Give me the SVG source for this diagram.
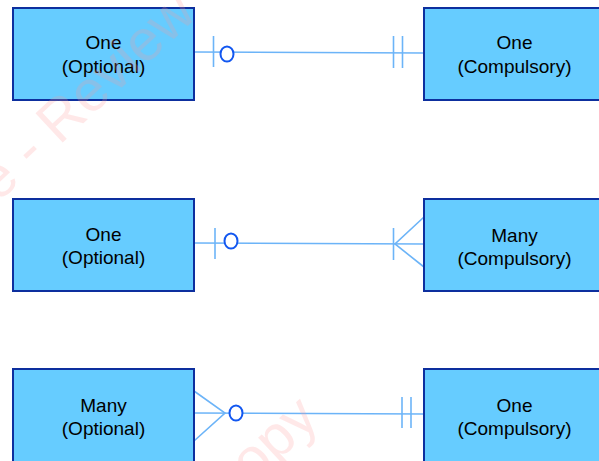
<svg xmlns="http://www.w3.org/2000/svg" width="599" height="461" viewBox="0 0 599 461">
<style>
.box{fill:#66ccff;stroke:#0d2f9e;stroke-width:2}
.lbl{font-family:"Liberation Sans",Arial,Helvetica,sans-serif;font-size:19px;fill:#000;text-anchor:middle}
.ln{stroke:#6cb4f8;stroke-width:1.6;fill:none}
.circ{stroke:#1257f0;stroke-width:2;fill:#fff}
.wm{font-family:"Liberation Sans",Arial,sans-serif;font-size:58px;fill:#ff9999;opacity:0.22}
</style>
<rect width="599" height="461" fill="#fff"/>
<g id="connectors">
<!-- row 1: one optional to one compulsory -->
<line class="ln" x1="194" y1="52" x2="424" y2="53"/>
<line class="ln" x1="213.5" y1="36" x2="213.5" y2="67"/>
<ellipse class="circ" cx="227" cy="54" rx="6.5" ry="7.5"/>
<line class="ln" x1="393.5" y1="36" x2="393.5" y2="68"/>
<line class="ln" x1="402.5" y1="36" x2="402.5" y2="68"/>
<!-- row 2: one optional to many compulsory -->
<line class="ln" x1="194" y1="243" x2="424" y2="244"/>
<line class="ln" x1="215" y1="228" x2="215" y2="259"/>
<ellipse class="circ" cx="231" cy="241" rx="6.5" ry="7.5"/>
<line class="ln" x1="393.5" y1="228" x2="393.5" y2="260"/>
<polyline class="ln" points="424,217 395,244 424,267"/>
<!-- row 3: many optional to one compulsory -->
<line class="ln" x1="194" y1="413" x2="424" y2="414"/>
<polyline class="ln" points="194,391 225,413 194,441"/>
<ellipse class="circ" cx="236" cy="413" rx="6.5" ry="7.5"/>
<line class="ln" x1="402" y1="397" x2="402" y2="428"/>
<line class="ln" x1="411" y1="397" x2="411" y2="428"/>
</g>
<g id="n1">
<rect class="box" x="13" y="8" width="181" height="92"/>
<text class="lbl" x="103.5" y="49">One</text>
<text class="lbl" x="103.5" y="73">(Optional)</text>
</g>
<g id="n2">
<rect class="box" x="424" y="8" width="182" height="92"/>
<text class="lbl" x="514.5" y="49">One</text>
<text class="lbl" x="514.5" y="73">(Compulsory)</text>
</g>
<g id="n3">
<rect class="box" x="13" y="199" width="181" height="92"/>
<text class="lbl" x="103.5" y="241">One</text>
<text class="lbl" x="103.5" y="264">(Optional)</text>
</g>
<g id="n4">
<rect class="box" x="424" y="199" width="182" height="92"/>
<text class="lbl" x="514.5" y="242">Many</text>
<text class="lbl" x="514.5" y="265">(Compulsory)</text>
</g>
<g id="n5">
<rect class="box" x="13" y="369" width="181" height="96"/>
<text class="lbl" x="103.5" y="412">Many</text>
<text class="lbl" x="103.5" y="435">(Optional)</text>
</g>
<g id="n6">
<rect class="box" x="424" y="369" width="182" height="96"/>
<text class="lbl" x="514.5" y="412">One</text>
<text class="lbl" x="514.5" y="435">(Compulsory)</text>
</g>
<g id="watermark">
<text class="wm" x="-2" y="203" transform="rotate(-43 -2 203)">e - Review</text>
<text class="wm" x="321" y="421" text-anchor="end" transform="rotate(-43 321 421)">Copy</text>
</g>
</svg>
